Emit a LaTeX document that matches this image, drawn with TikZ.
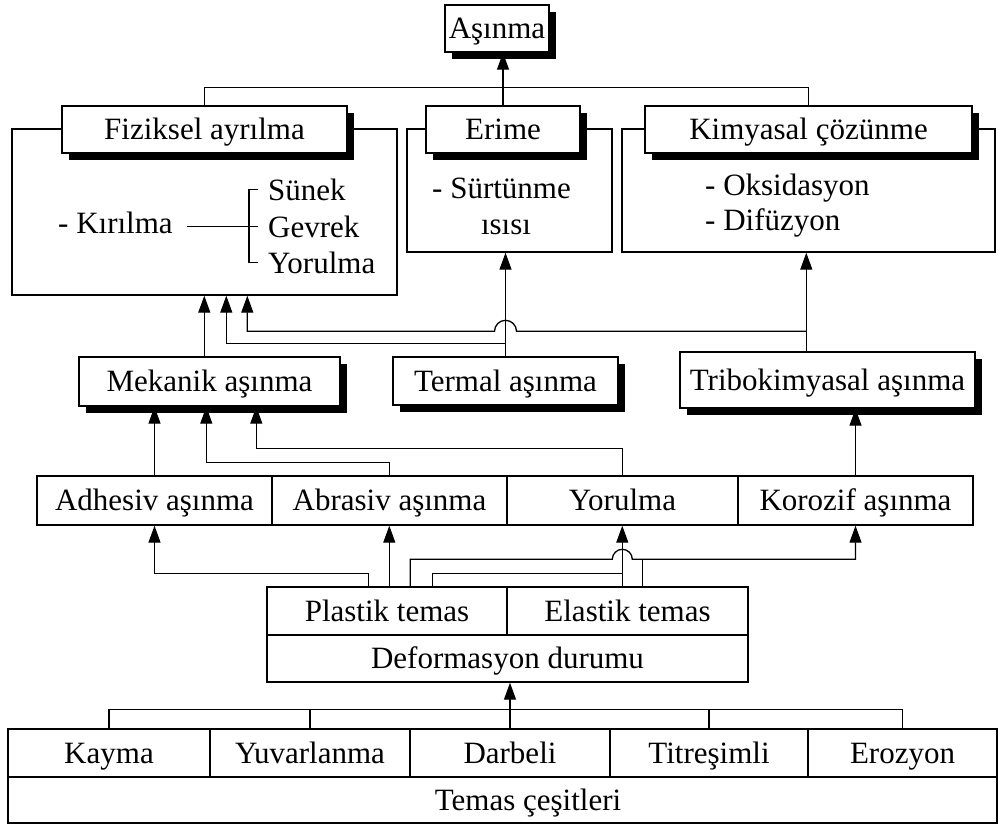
\documentclass[tikz,border=0pt]{standalone}
\usepackage{fontspec}
\setmainfont{Liberation Serif}
\usetikzlibrary{arrows.meta,shadows,calc}
\tikzset{
  ln/.style={line width=1.3pt},
  arr/.style={ln,-{Triangle[length=17pt,width=12pt]}},
  box/.style={draw,line width=1.4pt,fill=white,inner sep=0pt,text height=23pt,text depth=2.5pt},
  hdr/.style={box,drop shadow={shadow xshift=7pt,shadow yshift=-7pt,fill=black,opacity=1}},
  txt/.style={inner sep=0pt,anchor=base west},
}
\begin{document}
\begin{tikzpicture}[x=1pt,y=-1pt,font=\fontsize{31}{36}\selectfont]
\useasboundingbox[fill=white] (0,0) rectangle (998,825);
% top
\node[hdr,minimum width=104,minimum height=47] (asn) at (497,28.5) {Aşınma};
% Fiziksel
\node[box,minimum width=385,minimum height=166] (fizO) at (204.5,212) {};
\node[hdr,minimum width=285,minimum height=47] (fiz) at (204.5,129.5) {Fiziksel ayrılma};
\node[txt] (kir) at (58,233) {- Kırılma};
\node[txt] (sun) at (268,200) {Sünek};
\node[txt] (gev) at (268,237) {Gevrek};
\node[txt] (yor1) at (268,273) {Yorulma};
\draw[ln] ([xshift=14pt]kir.east |- gev.west) -- ([xshift=-10pt]gev.west);
\draw[ln] ([xshift=-10pt]sun.west) -- ([xshift=-19pt]sun.west) -- ([xshift=-19pt]yor1.west) -- ([xshift=-10pt]yor1.west);
% Erime
\node[box,minimum width=205,minimum height=123] (eriO) at (509.5,190.5) {};
\node[hdr,minimum width=154,minimum height=47] (eri) at (503,129.5) {Erime};
\node[txt] (sur) at (432,198) {- Sürtünme};
\node[inner sep=0pt,anchor=base,font=\fontsize{31}{36}\selectfont] (isi) at (506,234) {ısısı};
% Kimyasal
\node[box,minimum width=373,minimum height=123] (kimO) at (808.5,190.5) {};
\node[hdr,minimum width=327,minimum height=47] (kim) at (808.5,129.5) {Kimyasal çözünme};
\node[txt] (oks) at (705,195) {- Oksidasyon};
\node[txt] (dif) at (705,230) {- Difüzyon};
% middle
\node[hdr,minimum width=261,minimum height=49] (mek) at (209.5,381.5) {Mekanik aşınma};
\node[hdr,minimum width=225,minimum height=48] (ter) at (505.5,381) {Termal aşınma};
\node[hdr,minimum width=295,minimum height=56] (tri) at (827.5,380) {Tribokimyasal aşınma};
% four mechanisms
\node[box,minimum width=235,minimum height=49] (adh) at (154.5,500.5) {Adhesiv aşınma};
\node[box,minimum width=235,minimum height=49] (abr) at (389.5,500.5) {Abrasiv aşınma};
\node[box,minimum width=231,minimum height=49] (yor) at (622.5,500.5) {Yorulma};
\node[box,minimum width=235,minimum height=49] (kor) at (855.5,500.5) {Korozif aşınma};
% deformation
\node[box,minimum width=240,minimum height=48] (pla) at (387,611) {Plastik temas};
\node[box,minimum width=241,minimum height=48] (ela) at (627.5,611) {Elastik temas};
\node[box,minimum width=481,minimum height=47] (def) at (507.5,658.5) {Deformasyon durumu};
% contact types
\node[box,minimum width=202,minimum height=48] (kay) at (109,753) {Kayma};
\node[box,minimum width=200,minimum height=48] (yuv) at (310,753) {Yuvarlanma};
\node[box,minimum width=200,minimum height=48] (dar) at (510,753) {Darbeli};
\node[box,minimum width=198,minimum height=48] (tit) at (709,753) {Titreşimli};
\node[box,minimum width=189,minimum height=48] (ero) at (902.5,753) {Erozyon};
\node[box,minimum width=989,minimum height=46] (tem) at (502.5,800) {};
\node[inner sep=0pt,text height=23pt,text depth=2.5pt] (temT) at (528,800) {Temas çeşitleri};

% ---- connectors ----
\draw[ln] (fiz.north) -- ++(0,-18) -| (kim.north);
\draw[arr] (eri.north) -- (eri.north |- asn.south);

\draw[arr] ($(mek.north west)+(126,0)$) -- ($(fizO.south west)+(193,0)$);
\draw[arr] (ter.north) -- (ter.north |- eriO.south);
\draw[arr] ($(ter.north)+(0,-13)$) -| ($(fizO.south west)+(215,0)$);
\draw[arr] ($(tri.north west)+(127,0)$) -- ($(kimO.south west)+(185,0)$);
\coordinate (hop1) at ($(ter.north)+(0,-25)$);
\draw[arr] ($(tri.north west)+(127,-20)$) -- ($(hop1)+(11,0)$)
  arc[start angle=0,end angle=-180,radius=11] -| ($(fizO.south west)+(236,0)$);

\draw[arr] (adh.north) -- (adh.north |- mek.south);
\draw[arr] (abr.north) -- ++(0,-13) -| ($(mek.south west)+(128,0)$);
\draw[arr] (yor.north) -- ++(0,-27) -| ($(mek.south west)+(178,0)$);
\draw[arr] (kor.north) -- (kor.north |- tri.south);

\coordinate (p1) at ($(pla.north west)+(102,0)$);
\coordinate (p2) at ($(pla.north west)+(123,0)$);
\coordinate (p3) at ($(pla.north west)+(144,0)$);
\coordinate (p4) at ($(pla.north west)+(166,0)$);
\coordinate (e1) at ($(ela.north west)+(116,0)$);
\coordinate (e2) at ($(ela.north west)+(136,0)$);
\draw[arr] (p1) -- ++(0,-13) -| (adh.south);
\draw[arr] (p2) -- (p2 |- abr.south);
\draw[arr] (p3) -- ++(0,-27) -- ($(e1)+(-10,-27)$)
  arc[start angle=180,end angle=360,radius=10] -| (kor.south);
\draw[ln] (p4) |- ($(e1)+(0,-13)$);
\draw[arr] (e1) -- (e1 |- yor.south);
\draw[ln] (e2) -- ++(0,-27);

\draw[ln] (kay.north) -- ++(0,-19) -| (ero.north);
\draw[ln] (yuv.north) -- ++(0,-19);
\draw[ln] (tit.north) -- ++(0,-19);
\draw[arr] (dar.north) -- (dar.north |- def.south);
\end{tikzpicture}
\end{document}
